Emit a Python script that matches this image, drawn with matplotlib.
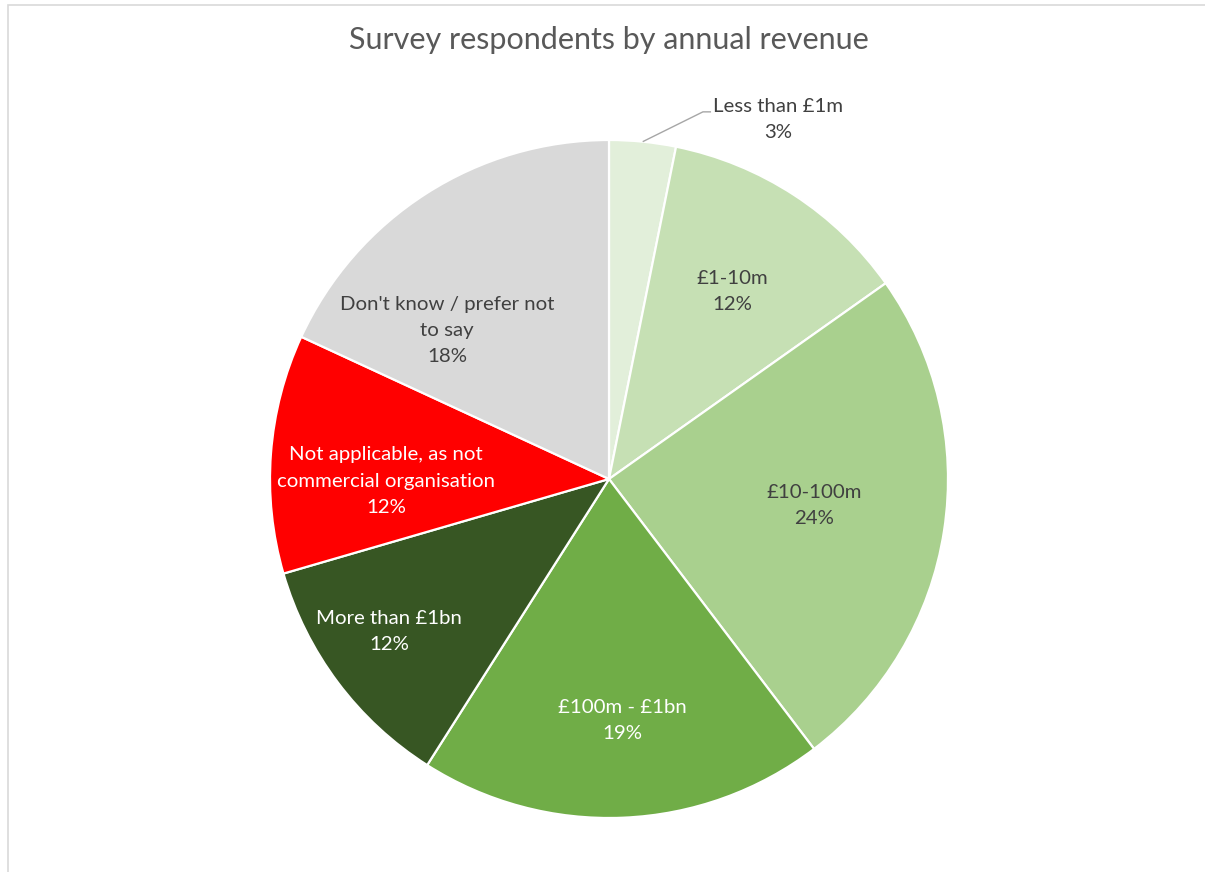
import matplotlib
matplotlib.use("Agg")
import matplotlib.pyplot as plt
from matplotlib.patches import Rectangle
import math

# ---- data ----
categories = ["Less than £1m", "£1-10m", "£10-100m", "£100m - £1bn",
              "More than £1bn", "Not applicable, as not\ncommercial organisation",
              "Don't know / prefer not\nto say"]
shares = [3.17, 12.03, 24.46, 19.35, 11.49, 11.39, 18.11]
pct_labels = ["3%", "12%", "24%", "19%", "12%", "12%", "18%"]
colors = ["#E2EFDA", "#C6E0B4", "#A9D08E", "#70AD47", "#375623", "#FF0000", "#D9D9D9"]
text_colors = ["#404040", "#404040", "#404040", "#FFFFFF", "#FFFFFF", "#FFFFFF", "#404040"]
title = "Survey respondents by annual revenue"

# label layout (pie-radius units)
label_pos = [(0.499, 1.060), (0.363, 0.552), (0.605, -0.078), (0.038, -0.712),
             (-0.649, -0.450), (-0.658, -0.006), (-0.478, 0.437)]

W, H, DPI = 1205, 872, 100
fig = plt.figure(figsize=(W / DPI, H / DPI), dpi=DPI)
fig.patch.set_facecolor("white")

cx, cy, R = 609, 479, 339
ax = fig.add_axes([(cx - R) / W, (H - cy - R) / H, 2 * R / W, 2 * R / H])
wedges, _ = ax.pie(shares, colors=colors, startangle=90, counterclock=False,
                   radius=1.0, wedgeprops=dict(edgecolor="white", linewidth=1.6))
ax.set_xlim(-1, 1)
ax.set_ylim(-1, 1)
ax.set_aspect("auto")
ax.axis("off")

total = sum(shares)
FONT = ["Lato", "DejaVu Sans"]
for i, cat in enumerate(categories):
    x, y = label_pos[i]
    ax.text(x, y, f"{cat}\n{pct_labels[i]}", ha="center", va="center", fontsize=14.7,
            color=text_colors[i], family=FONT, linespacing=1.65, clip_on=False)

# leader line for the small slice
mid = math.radians(90 - 360 * shares[0] / total / 2)
px, py = math.cos(mid), math.sin(mid)
ax.plot([px, 0.277, 0.301], [py, 1.083, 1.083], color="#A6A6A6", lw=1.0,
        clip_on=False, solid_capstyle="butt")

fig.text(cx / W, 1 - 40 / H, title, ha="center", va="center", fontsize=22,
         color="#595959", family=FONT)

fig.patches.append(Rectangle((8 / W, -0.1), 1.2, 1 - 5 / H + 0.1, transform=fig.transFigure,
                             fill=False, edgecolor="#D9D9D9", lw=1.2))

fig.savefig("out.png", dpi=DPI, facecolor="white")
